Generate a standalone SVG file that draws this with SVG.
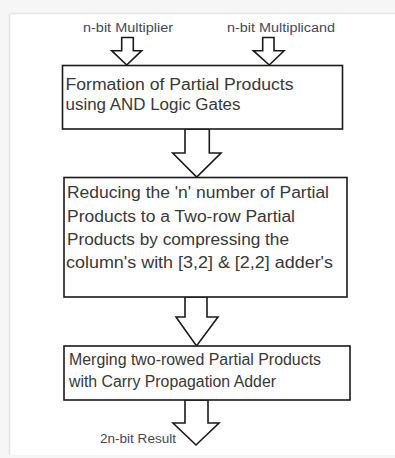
<svg xmlns="http://www.w3.org/2000/svg" width="395" height="458" viewBox="0 0 395 458">
<style>
.box{fill:#fff;stroke:#1a1a1a;stroke-width:1.6}
.arr{fill:#fff;stroke:#1a1a1a;stroke-width:1.6;stroke-linejoin:miter}
.t{font-family:"Liberation Sans",Arial,sans-serif;font-size:16px;fill:#383838}
.lbl{font-family:"Liberation Sans",Arial,sans-serif;font-size:12px;fill:#3d4a5e}
</style>
<rect x="0" y="0" width="395" height="458" fill="#f6f6f6"/>
<rect x="10" y="14" width="385" height="441" fill="#fff"/>
<line x1="9.5" y1="14" x2="9.5" y2="455" stroke="#e2e2e2" stroke-width="1.5"/>
<line x1="10" y1="13.5" x2="395" y2="13.5" stroke="#e6e6e6" stroke-width="1.5"/>
<g id="connectors">
<polygon class="arr" points="121.7,37.5 133.3,37.5 133.3,50.7 141.7,50.7 126.7,65 111.7,50.7 121.7,50.7"/>
<polygon class="arr" points="262.7,37.5 274,37.5 274,50.7 284,50.7 269.3,65 253.3,50.7 262.7,50.7"/>
<polygon class="arr" points="185,129 209.3,129 209.3,153 221,153 196.7,177 172.7,153 185,153"/>
<polygon class="arr" points="185,297 207,297 207,317 218,317 196.5,346 176,317 185,317"/>
<polygon class="arr" points="185,400 208,400 208,423 219,423 196,445 173,423 185,423"/>
</g>
<g id="label-multiplier"><text class="lbl" x="83" y="31.7" textLength="90" lengthAdjust="spacingAndGlyphs">n-bit Multiplier</text></g>
<g id="label-multiplicand"><text class="lbl" x="227" y="31.7" textLength="108" lengthAdjust="spacingAndGlyphs">n-bit Multiplicand</text></g>
<g id="node-formation">
<rect class="box" x="62.5" y="65.5" width="280" height="63.5"/>
<text class="t" x="65.5" y="90" textLength="228" lengthAdjust="spacingAndGlyphs">Formation of Partial Products</text>
<text class="t" x="65.5" y="110" textLength="175" lengthAdjust="spacingAndGlyphs">using AND Logic Gates</text>
</g>
<g id="node-reducing">
<rect class="box" x="64" y="177.5" width="283" height="119.5"/>
<text class="t" x="67" y="198" textLength="262" lengthAdjust="spacingAndGlyphs">Reducing the 'n' number of Partial</text>
<text class="t" x="67" y="221.7" textLength="228" lengthAdjust="spacingAndGlyphs">Products to a Two-row Partial</text>
<text class="t" x="67" y="245" textLength="222" lengthAdjust="spacingAndGlyphs">Products by compressing the</text>
<text class="t" x="66" y="268.3" textLength="267" lengthAdjust="spacingAndGlyphs">column's with [3,2] &amp; [2,2] adder's</text>
</g>
<g id="node-merging">
<rect class="box" x="64" y="346" width="286" height="54"/>
<text class="t" x="69" y="365" textLength="252" lengthAdjust="spacingAndGlyphs">Merging two-rowed Partial Products</text>
<text class="t" x="69" y="387.3" textLength="207" lengthAdjust="spacingAndGlyphs">with Carry Propagation Adder</text>
</g>
<g id="label-result"><text class="lbl" x="100" y="443" textLength="76" lengthAdjust="spacingAndGlyphs">2n-bit Result</text></g>
</svg>
